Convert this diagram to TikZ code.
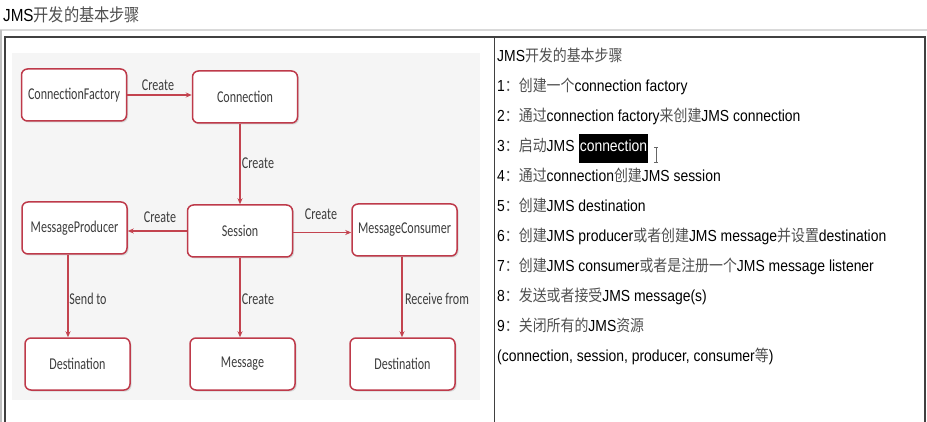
\documentclass[tikz,border=0pt]{standalone}
\usepackage{fontspec}
\usepackage{graphicx}
\setmainfont{Liberation Sans}
\newfontfamily\cjk{Noto Sans CJK SC}
\newfontfamily\diag{Carlito}
\usetikzlibrary{shadows,arrows.meta}
\definecolor{boxred}{HTML}{BE3A4A}
\definecolor{arrred}{HTML}{C3434F}
\definecolor{cjkgray}{HTML}{505050}
\definecolor{dtxt}{HTML}{3C3C3C}
\definecolor{imgbg}{HTML}{F5F5F5}
\newcommand{\zh}[1]{{\cjk\color{cjkgray}#1}}
\newcommand{\dlab}[1]{\scalebox{0.73}[1]{\diag\fontsize{16.5}{19}\selectfont #1}}
\newcommand{\rl}[1]{\scalebox{0.87}[1]{\fontsize{16}{19}\selectfont #1}}
\begin{document}
\begin{tikzpicture}[x=1pt,y=-1pt,
 box/.style={draw=boxred, line width=1.5pt, rounded corners=6pt, fill=white,
   minimum width=105pt, minimum height=52pt, inner sep=0pt, text=dtxt,
   drop shadow={opacity=0.25, shadow xshift=1.5pt, shadow yshift=-1.5pt}},
 arr/.style={draw=arrred, line width=1.3pt, -{Stealth[length=6pt,width=5pt]}},
 lab/.style={text=dtxt, inner sep=0pt},
 txtline/.style={anchor=base west, inner sep=0pt}]
\fill[white] (0,0) rectangle (927,422);
\useasboundingbox (0,0) rectangle (927,422);
% page frame
\draw[black!15, line width=2pt] (0,30) -- (927,30);
\draw[black!25, line width=2pt] (1,30) -- (1,422);
\draw[black!75, line width=1.3pt] (5,422) -- (5,37) -- (925,37) -- (925,422);
\draw[black!75, line width=1pt] (494,37) -- (494,422);
\node[txtline] (head) at (3,22) {\scalebox{0.87}[1]{\fontsize{17.5}{20}\selectfont JMS\zh{开发的基本步骤}}};
% diagram image background
\fill[imgbg] (12,53) rectangle (480,400);
% boxes
\node[box] (cf)    at (74,95)   {\dlab{ConnectionFactory}};
\node[box] (conn)  at (245,97)  {\dlab{Connection}};
\node[box] (prod)  at (74.5,228) {\dlab{MessageProducer}};
\node[box] (sess)  at (240,231) {\dlab{Session}};
\node[box] (cons)  at (404.5,230) {\dlab{MessageConsumer}};
\node[box] (dest1) at (77.5,364) {\dlab{Destination}};
\node[box] (msg)   at (242.5,364) {\dlab{Message}};
\node[box] (dest2) at (402.5,364) {\dlab{Destination}};
% connectors
\draw[arr] (cf.east) -- (cf.east -| conn.west);
\draw[arr] (sess.north |- conn.south) -- (sess.north);
\draw[arr] (sess.west) -- (sess.west -| prod.east);
\draw[arr] ([yshift=-1.5pt]sess.east) -- ([yshift=-1.5pt]sess.east -| cons.west);
\draw[arr] ([xshift=-6.5pt]prod.south) -- ([xshift=-6.5pt]prod.south |- dest1.north);
\draw[arr] (sess.south) -- (sess.south |- msg.north);
\draw[arr] ([xshift=-2.5pt]cons.south) -- ([xshift=-2.5pt]cons.south |- dest2.north);
% labels
\node[lab] (l1) at (158,85)  {\dlab{Create}};
\node[lab] (l2) at (258,163) {\dlab{Create}};
\node[lab] (l3) at (160,217) {\dlab{Create}};
\node[lab] (l4) at (321,214) {\dlab{Create}};
\node[lab] (l5) at (88,299)  {\dlab{Send to}};
\node[lab] (l6) at (258,299) {\dlab{Create}};
\node[lab] (l7) at (437,299) {\dlab{Receive from}};
% right column text
\node[txtline] (t0) at (497,61.7)  {\rl{JMS\zh{开发的基本步骤}}};
\node[txtline] (t1) at (497,91.7)  {\rl{1\zh{：创建一个}connection factory}};
\node[txtline] (t2) at (497,121.7) {\rl{2\zh{：通过}connection factory\zh{来创建}JMS connection}};
\node[txtline] (t3) at (497,151.7) {\rl{3\zh{：启动}JMS\ }};
\node[txtline, fill=black, text=white, text height=17.5pt, text depth=11pt, inner xsep=1pt] (hl) at (t3.base east) {\rl{connection}};
\node[txtline] (t4) at (497,181.7) {\rl{4\zh{：通过}connection\zh{创建}JMS session}};
\node[txtline] (t5) at (497,211.7) {\rl{5\zh{：创建}JMS destination}};
\node[txtline] (t6) at (497,241.7) {\rl{6\zh{：创建}JMS producer\zh{或者创建}JMS message\zh{并设置}destination}};
\node[txtline] (t7) at (497,271.7) {\rl{7\zh{：创建}JMS consumer\zh{或者是注册一个}JMS message listener}};
\node[txtline] (t8) at (497,301.7) {\rl{8\zh{：发送或者接受}JMS message(s)}};
\node[txtline] (t9) at (497,331.7) {\rl{9\zh{：关闭所有的}JMS\zh{资源}}};
\node[txtline] (t10) at (497,361.7) {\rl{(connection, session, producer, consumer\zh{等})}};
% text cursor
\draw[black!60, line width=0.8pt] ([xshift=8pt,yshift=-11pt]hl.base east) ++(-2,0) -- ++(4,0)
  ([xshift=8pt,yshift=-11pt]hl.base east) -- ([xshift=8pt,yshift=4pt]hl.base east)
  ++(-2,0) -- ++(4,0);
\end{tikzpicture}
\end{document}
